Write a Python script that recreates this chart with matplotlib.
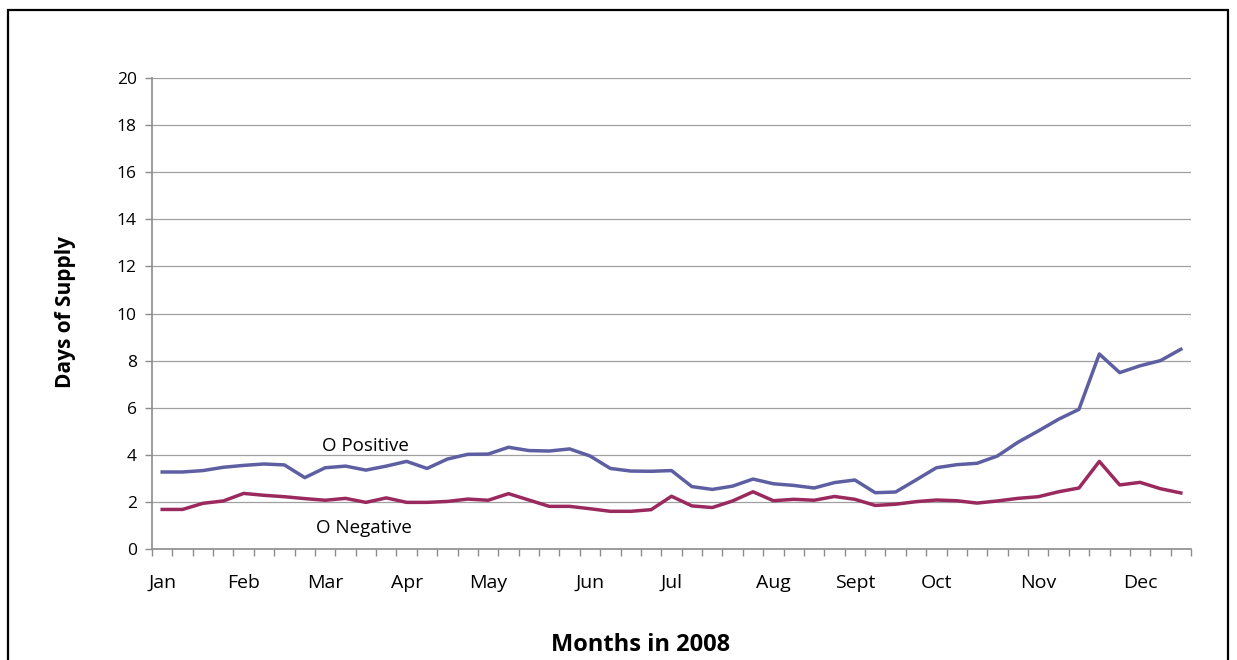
import matplotlib

matplotlib.use("Agg")

import matplotlib.pyplot as plt
import numpy as np
from matplotlib.patches import Rectangle

# Weekly days-of-supply readings, 51 weeks of 2008.
o_positive = [3.27, 3.27, 3.33, 3.47, 3.55, 3.61, 3.57, 3.03, 3.45, 3.52,
              3.35, 3.52, 3.72, 3.42, 3.82, 4.02, 4.03, 4.32, 4.18, 4.16,
              4.25, 3.95, 3.42, 3.31, 3.30, 3.33, 2.65, 2.53, 2.67, 2.97,
              2.77, 2.70, 2.59, 2.82, 2.93, 2.39, 2.42, 2.93, 3.45, 3.58,
              3.64, 3.95, 4.53, 5.01, 5.51, 5.93, 8.28, 7.49, 7.78, 8.00,
              8.48]
o_negative = [1.68, 1.68, 1.94, 2.04, 2.36, 2.28, 2.22, 2.14, 2.07, 2.15,
              1.98, 2.17, 1.98, 1.98, 2.02, 2.12, 2.07, 2.35, 2.08, 1.81,
              1.81, 1.71, 1.60, 1.60, 1.67, 2.24, 1.83, 1.76, 2.04, 2.43,
              2.05, 2.11, 2.07, 2.23, 2.11, 1.85, 1.90, 2.01, 2.08, 2.05,
              1.95, 2.04, 2.15, 2.22, 2.43, 2.59, 3.72, 2.72, 2.83, 2.56,
              2.38]

# Week index where each month label sits.
month_weeks = [0, 4, 8, 12, 16, 21, 25, 30, 34, 38, 43, 48]
month_names = ["Jan", "Feb", "Mar", "Apr", "May", "Jun", "Jul", "Aug",
               "Sept", "Oct", "Nov", "Dec"]

POS_COLOR = "#5E5EA2"
NEG_COLOR = "#9A2A5E"
AXIS_GRAY = "#8C8C8C"

plt.rcParams["font.family"] = ["Open Sans", "DejaVu Sans"]

fig = plt.figure(figsize=(12.37, 6.6), dpi=100)
fig.patches.append(Rectangle((8 / 1237, -0.1), 1220 / 1237, 1.1 - 10 / 660,
                             transform=fig.transFigure, fill=False,
                             edgecolor="black", linewidth=1.6))

ax = fig.add_axes([152 / 1237, 1 - 549 / 660, 1039 / 1237, 471 / 660])
weeks = np.arange(len(o_positive))
ax.plot(weeks, o_positive, color=POS_COLOR, linewidth=2.5, zorder=3)
ax.plot(weeks, o_negative, color=NEG_COLOR, linewidth=2.5, zorder=3)

ax.set_xlim(-0.5, len(weeks) - 0.5)
ax.set_ylim(0, 20)
ax.set_yticks(np.arange(0, 21, 2))
ax.yaxis.grid(True, color="#A0A0A0", linewidth=0.9)
ax.set_axisbelow(True)

# Tick marks at week boundaries, month names centred on their week.
ax.set_xticks(np.arange(-0.5, len(weeks), 1.0))
ax.set_xticklabels([])
ax.set_xticks(month_weeks, minor=True)
ax.set_xticklabels(month_names, minor=True)
ax.tick_params(axis="x", which="major", direction="out", length=5,
               color=AXIS_GRAY, width=1)
ax.tick_params(axis="x", which="minor", length=0, pad=18, labelsize=14)
ax.tick_params(axis="y", direction="out", length=5, color=AXIS_GRAY,
               width=1, pad=6, labelsize=12.5)

for side in ("top", "right"):
    ax.spines[side].set_visible(False)
for side in ("left", "bottom"):
    ax.spines[side].set_color(AXIS_GRAY)
    ax.spines[side].set_linewidth(1.2)

ax.text(365 / 1237, 1 - 446 / 660, "O Positive", transform=fig.transFigure,
        ha="center", va="center", fontsize=13.5)
ax.text(364 / 1237, 1 - 528 / 660, "O Negative", transform=fig.transFigure,
        ha="center", va="center", fontsize=13.5)

fig.text(66 / 1237, 1 - 312 / 660, "Days of Supply", rotation=90,
         ha="center", va="center", fontsize=15, fontweight="bold")
fig.text(641 / 1237, 1 - 645 / 660, "Months in 2008", ha="center",
         va="center", fontsize=17, fontweight="bold")

fig.savefig("out.png", dpi=100)
